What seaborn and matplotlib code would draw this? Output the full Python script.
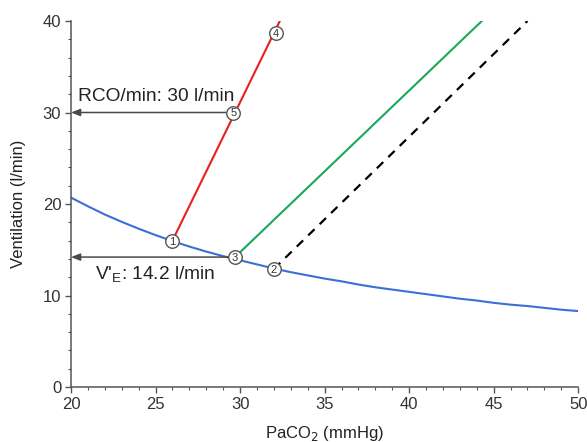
import matplotlib
matplotlib.use("Agg")
import matplotlib.pyplot as plt
import seaborn as sns
import pandas as pd

# Metabolic hyperbola: ventilation vs PaCO2
curve_paco2 = [20, 21, 22, 23, 24, 25, 26, 27, 28, 29, 30, 31, 32, 33, 34, 35, 36, 37, 38, 39,
               40, 41, 42, 43, 44, 45, 46, 47, 48, 49, 50]
curve_vent = [20.7, 19.75, 18.85, 18.05, 17.3, 16.6, 15.95, 15.35, 14.8, 14.3, 13.85, 13.4,
              12.95, 12.55, 12.2, 11.85, 11.55, 11.2, 10.9, 10.65, 10.4, 10.15, 9.9, 9.65,
              9.45, 9.2, 9.0, 8.85, 8.65, 8.45, 8.3]

# Ventilatory response lines (start point, end point)
red_paco2 = [26.0, 32.35]
red_vent = [16.0, 40.0]
green_paco2 = [29.7, 44.3]
green_vent = [14.2, 40.0]
dashed_paco2 = [32.0, 47.0]
dashed_vent = [12.9, 40.0]

# Numbered operating points
point_labels = ["1", "2", "3", "4", "5"]
point_paco2 = [26.0, 32.0, 29.7, 32.1, 29.6]
point_vent = [16.0, 12.9, 14.2, 38.7, 30.0]

# Read-off values shown with arrows
rco_value = 30
ve_value = 14.2

sns.set_theme(style="ticks")
plt.rcParams["font.family"] = ["Liberation Sans", "DejaVu Sans"]

fig = plt.figure(figsize=(5.87, 4.42), dpi=100)
ax = fig.add_axes([0.121, 0.1244, 0.864, 0.8281])

curve_df = pd.DataFrame({"PaCO2": curve_paco2, "V": curve_vent})
sns.lineplot(data=curve_df, x="PaCO2", y="V", ax=ax, color="#3b6fd6", lw=1.5, zorder=2)
sns.lineplot(x=red_paco2, y=red_vent, ax=ax, color="#e8201c", lw=1.5, zorder=2)
sns.lineplot(x=green_paco2, y=green_vent, ax=ax, color="#1aa85a", lw=1.5, zorder=2)
ax.plot(dashed_paco2, dashed_vent, color="black", lw=1.6, ls=(0, (4, 3.2)), zorder=2)

# Arrows pointing to the ventilation axis
arrow_kw = dict(arrowstyle="-|>,head_length=0.45,head_width=0.18", color="#4a4a4a", lw=1.1,
                shrinkA=0, shrinkB=0)
ax.annotate("", xy=(20, rco_value), xytext=(point_paco2[4], rco_value),
            arrowprops=arrow_kw, zorder=3)
ax.annotate("", xy=(20, ve_value), xytext=(point_paco2[2], ve_value),
            arrowprops=arrow_kw, zorder=3)
ax.text(20.4, rco_value + 0.8, f"RCO/min: {rco_value} l/min", fontsize=13.8,
        ha="left", va="bottom", color="#222222")
ax.text(21.4, ve_value - 0.8, f"V'$_\\mathregular{{E}}$: {ve_value} l/min", fontsize=13.8,
        ha="left", va="top", color="#222222")

# Circled point markers
sns.scatterplot(x=point_paco2, y=point_vent, ax=ax, s=95, color="white",
                edgecolor="#555555", linewidth=1.0, zorder=4, legend=False)
for lab, px, py in zip(point_labels, point_paco2, point_vent):
    ax.text(px, py - 0.1, lab, fontsize=8, ha="center", va="center",
            color="#333333", zorder=5)

ax.set_xlim(20, 50)
ax.set_ylim(0, 40)
ax.set_xticks([20, 25, 30, 35, 40, 45, 50])
ax.set_yticks([0, 10, 20, 30, 40])
ax.set_xticks(range(20, 51), minor=True)
ax.set_yticks(range(0, 41, 2), minor=True)
ax.tick_params(axis="both", which="major", length=4, width=1, color="#555555",
               labelsize=12, labelcolor="#333333", pad=3)
ax.tick_params(axis="both", which="minor", length=2.5, width=0.8, color="#555555")
for side in ["top", "right"]:
    ax.spines[side].set_visible(False)
for side in ["left", "bottom"]:
    ax.spines[side].set_color("#555555")
    ax.spines[side].set_linewidth(1.1)

ax.set_xlabel("PaCO$_2$ (mmHg)", fontsize=12, color="#222222", labelpad=9)
ax.set_ylabel("Ventilation (l/min)", fontsize=12, color="#222222", labelpad=12)

fig.savefig("out.png", dpi=100)
